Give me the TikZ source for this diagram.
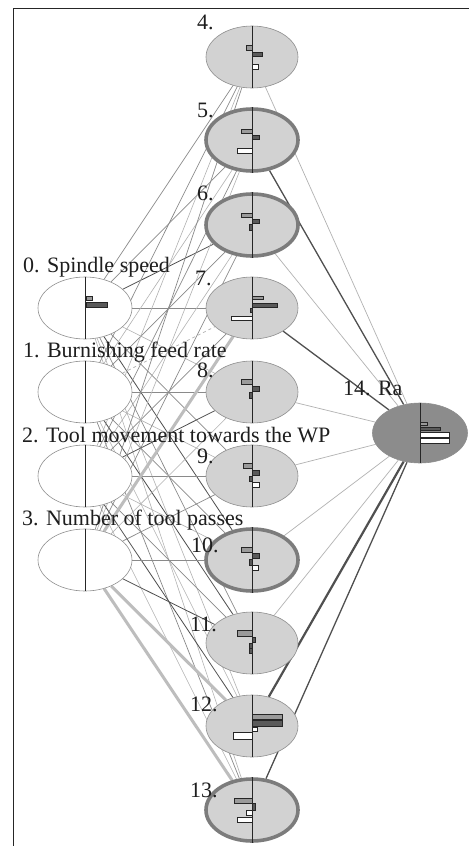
\documentclass[tikz,border=0pt]{standalone}
\usepackage{fontspec}
\setmainfont{Liberation Serif}
\usetikzlibrary{shapes.geometric,backgrounds}
\definecolor{cHid}{HTML}{D2D2D2}
\definecolor{cOut}{HTML}{8C8C8C}
\definecolor{cBord}{HTML}{7C7C7C}
\definecolor{cThin}{HTML}{8E8E8E}
\definecolor{cTxt}{HTML}{1E1E1E}
\definecolor{cLight}{HTML}{B2B2B2}
\definecolor{cMid}{HTML}{8A8A8A}
\definecolor{cDark}{HTML}{505050}
\definecolor{cThick}{HTML}{BDBDBD}
\definecolor{cBarL}{HTML}{9A9A9A}
\definecolor{cBarD}{HTML}{5A5A5A}
\begin{document}
\begin{tikzpicture}[x=1pt,y=-1pt,
  inpnode/.style={ellipse, draw=cThin, fill=white, line width=0.6pt, minimum width=94pt, minimum height=62pt, inner sep=0pt},
  hidnode/.style={ellipse, draw=cThin, fill=cHid, line width=0.6pt, minimum width=92pt, minimum height=62pt, inner sep=0pt},
  hidthick/.style={hidnode, draw=cBord, line width=3.6pt},
  outnode/.style={ellipse, draw=cThin, fill=cOut, line width=0.6pt, minimum width=95pt, minimum height=60pt, inner sep=0pt},
  labeltext/.style={font=\fontsize{22}{24}\selectfont, text=cTxt, inner sep=0pt, anchor=base west},
  vline/.style={draw=black!85, line width=0.8pt},
  barL/.style={draw=black!85, fill=cBarL, line width=0.5pt},
  barD/.style={draw=black!85, fill=cBarD, line width=0.5pt},
  barW/.style={draw=black!85, fill=white, line width=0.5pt},
  eL/.style={draw=cLight, line width=0.6pt},
  eM/.style={draw=cMid, line width=0.7pt},
  eD/.style={draw=cDark, line width=0.8pt},
  eDash/.style={draw=cLight, line width=0.7pt, dashed},
  eThick/.style={draw=cThick, line width=3pt},
  oL/.style={draw=cLight, line width=0.7pt},
  oD/.style={draw=cDark, line width=1.3pt},
  oDD/.style={draw=cDark, line width=2.2pt},
  frameline/.style={draw=black!85, line width=1pt}
]
\useasboundingbox (0,0) rectangle (469,846);

% input nodes
\node[inpnode] (i0) at (85,308) {};
\node[inpnode] (i1) at (85,392) {};
\node[inpnode] (i2) at (85,476) {};
\node[inpnode] (i3) at (85,560) {};
% hidden nodes
\node[hidnode]  (h4)  at (252,57)  {};
\node[hidthick] (h5)  at (252,140) {};
\node[hidthick] (h6)  at (252,225) {};
\node[hidnode]  (h7)  at (252,308) {};
\node[hidnode]  (h8)  at (252,392) {};
\node[hidnode]  (h9)  at (252,476) {};
\node[hidthick] (h10) at (252,560) {};
\node[hidnode]  (h11) at (252,643) {};
\node[hidnode]  (h12) at (252,726) {};
\node[hidthick] (h13) at (252,810) {};
% output
\node[outnode] (o14) at (420,433) {};

\begin{scope}[on background layer]
\fill[white] (0,0) rectangle (469,846);
\draw[frameline] (13,846) -- (13,8) -- (469,8);
% input to hidden
\draw[eM] (i0) -- (h4);  \draw[eM] (i0) -- (h5);  \draw[eD] (i0) -- (h6);
\draw[eM] (i0) -- (h7);  \draw[eL] (i0) -- (h8);  \draw[eM] (i0) -- (h9);
\draw[eD] (i0) -- (h10); \draw[eM] (i0) -- (h11); \draw[eL] (i0) -- (h12);
\draw[eL] (i0) -- (h13);
\draw[eM] (i1) -- (h4);  \draw[eL] (i1) -- (h5);  \draw[eM] (i1) -- (h6);
\draw[eDash] (i1) -- (h7); \draw[eM] (i1) -- (h8); \draw[eL] (i1) -- (h9);
\draw[eM] (i1) -- (h10); \draw[eD] (i1) -- (h11); \draw[eL] (i1) -- (h12);
\draw[eM] (i1) -- (h13);
\draw[eL] (i2) -- (h4);  \draw[eM] (i2) -- (h5);  \draw[eL] (i2) -- (h6);
\draw[eM] (i2) -- (h7);  \draw[eD] (i2) -- (h8);  \draw[eM] (i2) -- (h9);
\draw[eL] (i2) -- (h10); \draw[eM] (i2) -- (h11); \draw[eD] (i2) -- (h12);
\draw[eL] (i2) -- (h13);
\draw[eM] (i3) -- (h4);  \draw[eL] (i3) -- (h5);  \draw[eM] (i3) -- (h6);
\draw[eThick] (i3) -- (h7); \draw[eL] (i3) -- (h8); \draw[eM] (i3) -- (h9);
\draw[eM] (i3) -- (h10); \draw[eD] (i3) -- (h11); \draw[eThick] (i3) -- (h12);
\draw[eThick] (i3) -- (h13);
% hidden to output
\draw[oL] (h4) -- (o14);  \draw[oD] (h5) -- (o14);  \draw[oL] (h6) -- (o14);
\draw[oD] (h7) -- (o14);  \draw[oL] (h8) -- (o14);  \draw[oL] (h9) -- (o14);
\draw[oL] (h10) -- (o14); \draw[oL] (h11) -- (o14); \draw[oDD] (h12) -- (o14);
\draw[oD] (h13) -- (o14);
\end{scope}

% vertical lines
\foreach \n in {i0,i1,i2,i3,h4,h5,h6,h7,h8,h9,h10,h11,h12,h13,o14}
  \draw[vline] (\n.north) -- (\n.south);

% bars
\begin{scope}[shift={(i0.center)}]
  \draw[barL] (1,-12) rectangle (7,-8); \draw[barD] (1,-6) rectangle (22,-1);
\end{scope}
\begin{scope}[shift={(h4.center)}]
  \draw[barL] (-6,-12) rectangle (0,-7); \draw[barD] (0,-5) rectangle (10,-1); \draw[barW] (0,7) rectangle (6,12);
\end{scope}
\begin{scope}[shift={(h5.center)}]
  \draw[barL] (-11,-11) rectangle (0,-7); \draw[barD] (0,-5) rectangle (7,-1); \draw[barW] (-15,8) rectangle (0,13);
\end{scope}
\begin{scope}[shift={(h6.center)}]
  \draw[barL] (-11,-12) rectangle (0,-8); \draw[barD] (0,-6) rectangle (7,-2); \draw[barD] (-3,-1) rectangle (0,5);
\end{scope}
\begin{scope}[shift={(h7.center)}]
  \draw[barL] (0,-12) rectangle (11,-9); \draw[barD] (0,-5) rectangle (25,-1); \draw[barD] (-2,0) rectangle (0,4); \draw[barW] (-21,8) rectangle (0,12);
\end{scope}
\begin{scope}[shift={(h8.center)}]
  \draw[barL] (-11,-13) rectangle (0,-8); \draw[barD] (0,-6) rectangle (7,-1); \draw[barD] (-3,0) rectangle (0,6);
\end{scope}
\begin{scope}[shift={(h9.center)}]
  \draw[barL] (-9,-13) rectangle (0,-8); \draw[barD] (0,-6) rectangle (7,-1); \draw[barD] (-3,0) rectangle (0,5); \draw[barW] (0,6) rectangle (7,11);
\end{scope}
\begin{scope}[shift={(h10.center)}]
  \draw[barL] (-11,-13) rectangle (0,-8); \draw[barD] (0,-7) rectangle (7,-2); \draw[barD] (-3,-1) rectangle (0,5); \draw[barW] (0,5) rectangle (6,10);
\end{scope}
\begin{scope}[shift={(h11.center)}]
  \draw[barL] (-15,-13) rectangle (0,-7); \draw[barD] (0,-6) rectangle (3,-1); \draw[barD] (-3,0) rectangle (0,5); \draw[barD] (-3,5) rectangle (0,10);
\end{scope}
\begin{scope}[shift={(h12.center)}]
  \draw[barL] (0,-12) rectangle (30,-7); \draw[barD] (0,-6) rectangle (30,0); \draw[barW] (0,1) rectangle (5,5); \draw[barW] (-19,6) rectangle (0,13);
\end{scope}
\begin{scope}[shift={(h13.center)}]
  \draw[barL] (-18,-12) rectangle (0,-7); \draw[barD] (0,-7) rectangle (3,0); \draw[barW] (-6,0) rectangle (0,5); \draw[barW] (-15,7) rectangle (0,12);
\end{scope}
\begin{scope}[shift={(o14.center)}]
  \draw[barL] (0,-11) rectangle (7,-8); \draw[barD] (0,-6) rectangle (20,-3); \draw[barW] (0,-1) rectangle (29,4); \draw[barW] (0,5) rectangle (29,10);
\end{scope}

% labels
\node[labeltext] (l0) at (23,272) {0. Spindle speed};
\node[labeltext] (l1) at (23,357) {1. Burnishing feed rate};
\node[labeltext] (l2) at (22,442) {2. Tool movement towards the WP};
\node[labeltext] (l3) at (22,525) {3. Number of tool passes};
\node[labeltext] (l4) at (197,29) {4.};
\node[labeltext] (l5) at (197,117) {5.};
\node[labeltext] (l6) at (197,200) {6.};
\node[labeltext] (l7) at (195,285) {7.};
\node[labeltext] (l8) at (197,377) {8.};
\node[labeltext] (l9) at (197,463) {9.};
\node[labeltext] (l10) at (191,552) {10.};
\node[labeltext] (l11) at (190,631) {11.};
\node[labeltext] (l12) at (190,711) {12.};
\node[labeltext] (l13) at (190,797) {13.};
\node[labeltext] (l14) at (343,395) {14. Ra};
\end{tikzpicture}
\end{document}
